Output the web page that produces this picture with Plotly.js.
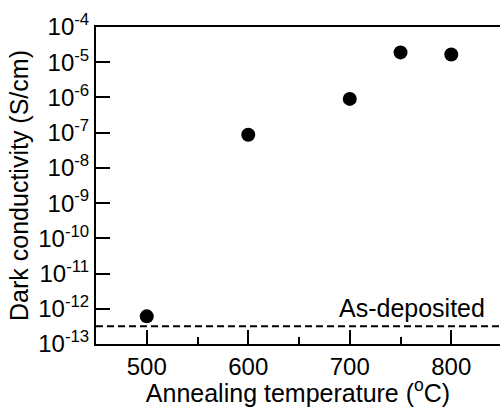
<!DOCTYPE html>
<html>
<head>
<meta charset="utf-8">
<script src="https://cdn.plot.ly/plotly-3.0.1.min.js"></script>
<style>html,body{margin:0;padding:0;background:#fff}#chart{width:500px;height:407px}</style>
</head>
<body>
<div id="chart"></div>
<script>
// Data
var temperatures = [500, 600, 700, 750, 800];
var conductivity = [6.1e-13, 8.7e-8, 9.1e-7, 1.9e-5, 1.65e-5];
var asDeposited = 3.2e-13;
var xTickVals = [500, 600, 700, 800];
var yTickVals = [1e-13, 1e-12, 1e-11, 1e-10, 1e-9, 1e-8, 1e-7, 1e-6, 1e-5, 1e-4];
var yTickText = ['10<sup>-13</sup>', '10<sup>-12</sup>', '10<sup>-11</sup>', '10<sup>-10</sup>', '10<sup>-9</sup>',
                 '10<sup>-8</sup>', '10<sup>-7</sup>', '10<sup>-6</sup>', '10<sup>-5</sup>', '10<sup>-4</sup>'];

var font = 'Liberation Sans, Arial, Helvetica, sans-serif';

var trace = {
  x: temperatures,
  y: conductivity,
  type: 'scatter',
  mode: 'markers',
  marker: {color: '#000', size: 14, symbol: 'circle'},
  showlegend: false,
  cliponaxis: false
};

var layout = {
  width: 500,
  height: 407,
  margin: {l: 96, r: 0, t: 27, b: 63},
  paper_bgcolor: '#fff',
  plot_bgcolor: '#fff',
  font: {family: font, color: '#000', size: 24},
  showlegend: false,
  xaxis: {
    range: [450, 848],
    tickvals: xTickVals,
    ticks: 'inside',
    ticklen: 14,
    tickwidth: 2,
    tickcolor: '#000',
    showline: true,
    linewidth: 2,
    linecolor: '#000',
    mirror: true,
    showgrid: false,
    zeroline: false,
    tickfont: {size: 24, family: font},
    minor: {dtick: 50, tick0: 450, ticks: 'inside', ticklen: 7, tickwidth: 2, tickcolor: '#000', showgrid: false},
    title: {text: 'Annealing temperature (<sup>o</sup>C)', font: {size: 25, family: font}, standoff: 2}
  },
  yaxis: {
    type: 'log',
    range: [-13, -4],
    tickvals: yTickVals,
    ticktext: yTickText,
    ticks: 'inside',
    ticklen: 14,
    tickwidth: 2,
    tickcolor: '#000',
    showline: true,
    linewidth: 2,
    linecolor: '#000',
    mirror: false,
    showgrid: false,
    zeroline: false,
    tickfont: {size: 24, family: font},
    title: {text: 'Dark conductivity (S/cm)', font: {size: 25, family: font}, standoff: 2}
  },
  shapes: [{
    type: 'line', xref: 'paper', x0: 0, x1: 1, yref: 'y',
    y0: asDeposited, y1: asDeposited,
    line: {color: '#000', width: 2, dash: '7px,4px'}
  }],
  annotations: [{
    text: 'As-deposited', xref: 'paper', yref: 'paper', x: 0.968, y: 0.112,
    xanchor: 'right', yanchor: 'middle', showarrow: false,
    font: {size: 25, family: font, color: '#000'}
  }]
};

Plotly.newPlot('chart', [trace], layout, {displayModeBar: false, staticPlot: true});
</script>
</body>
</html>
